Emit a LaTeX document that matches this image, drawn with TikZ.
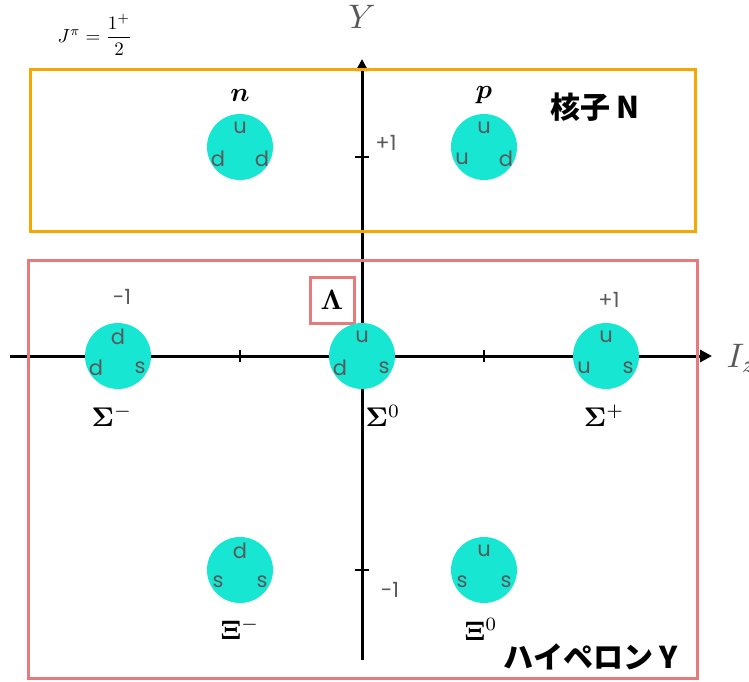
\documentclass[tikz,border=0pt]{standalone}
\usepackage{amsmath}
\usepackage[no-math]{fontspec}
\usepackage{xcolor}
\usepackage{tikz}
\usetikzlibrary{arrows.meta,calc}
\newfontfamily\qfont{Poppins}
\newfontfamily\cjkfont{Noto Sans CJK JP}
\definecolor{cNuc}{HTML}{F7A800}
\definecolor{cHyp}{HTML}{E57B7B}
\definecolor{cHad}{HTML}{17E6D2}
\definecolor{cGrey}{HTML}{595959}
\definecolor{cInk}{HTML}{000000}
\tikzset{
  axis/.style   = {draw=cInk, line width=3pt, -{Triangle[length=12pt,width=12pt]}},
  tick/.style   = {draw=cInk, line width=2pt},
  group/.style  = {line width=3pt},
  had/.style    = {circle, fill=cHad, minimum size=66pt, inner sep=0pt},
  quark/.style  = {text=cGrey, font=\qfont\fontsize{21}{21}\selectfont, inner sep=0pt},
  val/.style    = {text=cGrey, font=\qfont\fontsize{21}{21}\selectfont, inner sep=0pt},
  bname/.style  = {scale=2.7, inner sep=0pt},
  axlabel/.style= {text=cGrey, scale=3.4, inner sep=0pt},
  title/.style  = {font=\cjkfont\bfseries\fontsize{30}{30}\selectfont, inner sep=0pt},
}
\begin{document}
\begin{tikzpicture}[x=1pt, y=-1pt]
  \useasboundingbox (0,0) rectangle (749,681);
  % axes
  \coordinate (xl) at (10,356);  \coordinate (xr) at (712,356);
  \coordinate (yb) at (362,660); \coordinate (yt) at (362,59);
  \draw[axis] (xl) -- (xr);
  \draw[axis] (yb) -- (yt);
  \foreach \x in {240,484} \draw[tick] (\x,350) -- (\x,362);
  \foreach \y in {157,570} \draw[tick] (355,\y) -- (369,\y);
  \node[axlabel, anchor=west] (Iz) at (726,358) {$I_z$};
  \node[axlabel] (Ylab) at (362,17) {$Y$};
  % groups
  \draw[group, draw=cNuc] (30,69) rectangle (695,231);
  \draw[group, draw=cHyp] (28,260) rectangle (697,678);
  \node[group, draw=cHyp, minimum width=44pt, minimum height=46pt] (Lam) at (332,300)
    {\scalebox{2.8}{$\mathbf{\Lambda}$}};
  \node[title] (nuc) at (595,107) {核子 N};
  \node[title] (hyp) at (591,657) {ハイペロン Y};
  \node[scale=1.9] (spin) at (95,35) {$J^{\pi}=\dfrac{1^{+}}{2}$};
  % baryons
  \foreach \nm/\x/\y/\a/\b/\c in {n/240/147/u/d/d, p/484/147/u/u/d,
      Sm/118/356/d/d/s, Sz/362/356/u/d/s, Sp/606/356/u/u/s,
      Xm/240/570/d/s/s, Xz/484/570/u/s/s} {
    \node[had] (\nm) at (\x,\y) {};
    \node[quark] at ($(\nm)+(0,-19)$) {\a};
    \node[quark] at ($(\nm)+(-22,12)$) {\b};
    \node[quark] at ($(\nm)+(22,12)$) {\c};
  }
  \node[bname] at ($(n)+(0,-52)$) {$\boldsymbol{n}$};
  \node[bname] at ($(p)+(0,-52)$) {$\boldsymbol{p}$};
  \node[bname] at ($(Sm)+(-6,60)$) {$\mathbf{\Sigma}^{-}$};
  \node[bname] at ($(Sz)+(21,60)$) {$\mathbf{\Sigma}^{0}$};
  \node[bname] at ($(Sp)+(-2,60)$) {$\mathbf{\Sigma}^{+}$};
  \node[bname] at ($(Xm)+(0,59)$) {$\mathbf{\Xi}^{-}$};
  \node[bname] at ($(Xz)+(-3,59)$) {$\mathbf{\Xi}^{0}$};
  % values
  \node[val] at (122,297) {-1};
  \node[val] at (609,300) {+1};
  \node[val] at (386,143) {+1};
  \node[val] at (390,590) {-1};
\end{tikzpicture}
\end{document}
